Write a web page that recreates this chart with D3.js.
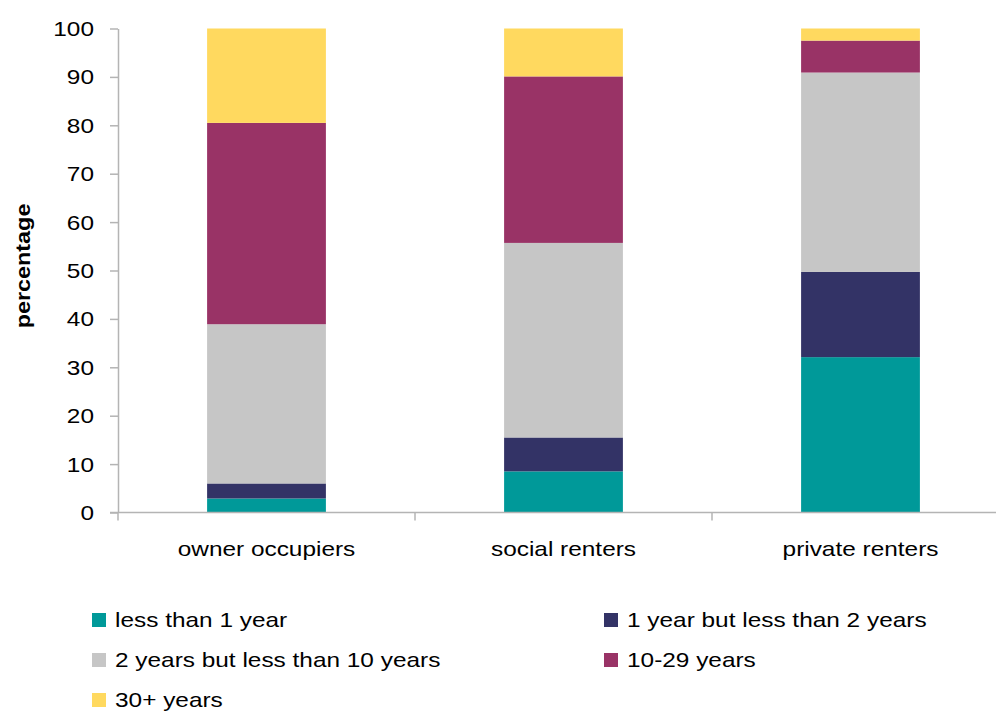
<!DOCTYPE html>
<html>
<head>
<meta charset="utf-8">
<script src="https://cdn.jsdelivr.net/npm/d3@7"></script>
<style>
  html, body { margin: 0; padding: 0; background: #ffffff; }
  svg { display: block; }
  text { font-family: "Liberation Sans", Arial, sans-serif; fill: #000; }
</style>
</head>
<body>
<svg id="chart" width="996" height="711"></svg>
<script>
// Tenure groups along the x axis
const categories = ["owner occupiers", "social renters", "private renters"];

// Length of residence bands, bottom to top of each stack
const seriesNames = [
  "less than 1 year",
  "1 year but less than 2 years",
  "2 years but less than 10 years",
  "10-29 years",
  "30+ years"
];

// Percentage of households in each band, per tenure group
const lessThan1 = [2.9, 8.5, 32.1];
const oneToTwo = [3.1, 7.0, 17.6];
const twoToTen = [32.9, 40.2, 41.2];
const tenTo29 = [41.6, 34.4, 6.6];
const thirtyPlus = [19.5, 9.9, 2.5];

const seriesValues = [lessThan1, oneToTwo, twoToTen, tenTo29, thirtyPlus];
const colors = ["#009999", "#333366", "#c6c6c6", "#993366", "#ffd95f"];

const yTicks = [0, 10, 20, 30, 40, 50, 60, 70, 80, 90, 100];

// Build rows for d3.stack
const rows = categories.map((c, i) => {
  const r = { category: c };
  seriesNames.forEach((s, k) => { r[s] = seriesValues[k][i]; });
  return r;
});
const stacked = d3.stack().keys(seriesNames)(rows);

const svg = d3.select("#chart");
const axisColor = "#b4b4b4";
const sx = 1.22; // horizontal stretch of the lettering

const x = d3.scaleBand().domain(categories).range([118, 1009]).paddingInner(0.6).paddingOuter(0.3);
const y = d3.scaleLinear().domain([0, 100]).range([512.5, 28.5]);

// Stacked bars
svg.append("g").selectAll("g")
  .data(stacked)
  .join("g")
  .attr("fill", (d, i) => colors[i])
  .selectAll("rect")
  .data(d => d)
  .join("rect")
  .attr("x", d => x(d.data.category))
  .attr("width", x.bandwidth())
  .attr("y", d => y(d[1]))
  .attr("height", d => y(d[0]) - y(d[1]));

// Y axis
const yAxis = svg.append("g").attr("transform", "translate(118,0)")
  .call(d3.axisLeft(y).tickValues(yTicks).tickSize(8).tickSizeOuter(0).tickFormat(d3.format("d")));
yAxis.select(".domain").attr("stroke", axisColor).attr("stroke-width", 1.5);
yAxis.selectAll(".tick line").attr("stroke", axisColor).attr("stroke-width", 1.5);
yAxis.selectAll(".tick text")
  .attr("x", null).attr("dy", null)
  .attr("font-size", 20)
  .attr("text-anchor", "end")
  .attr("transform", `translate(-24,7) scale(${sx},1)`)
  .attr("fill", "#000");

// X axis: baseline with tick marks at the category boundaries
const xg = svg.append("g");
const [x0, x1] = x.range();
xg.append("line")
  .attr("x1", 110).attr("x2", x1)
  .attr("y1", y(0)).attr("y2", y(0))
  .attr("stroke", axisColor).attr("stroke-width", 1.5);
d3.range(categories.length + 1).forEach(i => {
  const bx = x0 + i * (x1 - x0) / categories.length;
  xg.append("line")
    .attr("x1", bx).attr("x2", bx)
    .attr("y1", y(0)).attr("y2", y(0) + 8)
    .attr("stroke", axisColor).attr("stroke-width", 1.5);
});

// Category labels
svg.append("g").selectAll("text")
  .data(categories)
  .join("text")
  .attr("transform", d => `translate(${x(d) + x.bandwidth() / 2},556) scale(${sx},1)`)
  .attr("text-anchor", "middle")
  .attr("font-size", 20)
  .text(d => d);

// Y axis title
svg.append("text")
  .attr("transform", "translate(30,266) rotate(-90) scale(1.17,1)")
  .attr("text-anchor", "middle")
  .attr("font-size", 20)
  .attr("font-weight", "bold")
  .text("percentage");

// Legend: two columns, filled row by row
const legendCols = [92, 604];
const legendRows = [627, 667, 707];
const legend = svg.append("g").selectAll("g")
  .data(seriesNames)
  .join("g")
  .attr("transform", (d, i) => `translate(${legendCols[i % 2]},${legendRows[Math.floor(i / 2)]})`);
legend.append("rect")
  .attr("x", 0).attr("y", -14)
  .attr("width", 14).attr("height", 14)
  .attr("fill", (d, i) => colors[i]);
legend.append("text")
  .attr("transform", `translate(23,0) scale(${sx},1)`)
  .attr("font-size", 20)
  .text(d => d);
</script>
</body>
</html>
